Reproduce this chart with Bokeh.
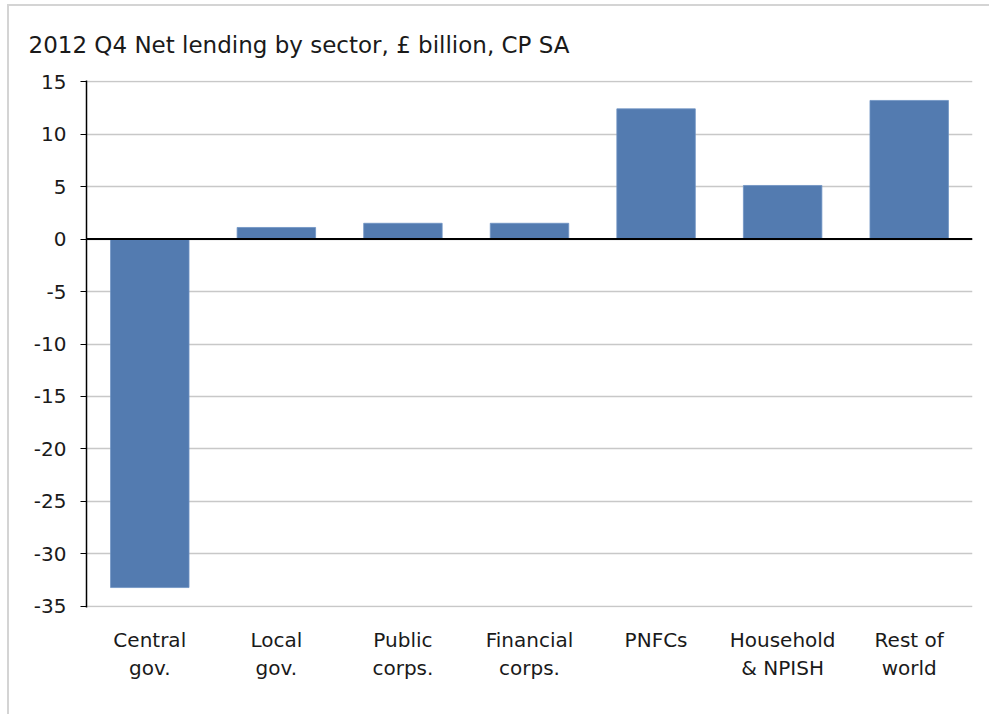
from bokeh.plotting import figure
from bokeh.models import Range1d, Span, FixedTicker, Title
from bokeh.embed import file_html
from bokeh.resources import INLINE

categories = ["Central\ngov.", "Local\ngov.", "Public\ncorps.", "Financial\ncorps.",
              "PNFCs", "Household\n& NPISH", "Rest of\nworld"]
values = [-33.2, 1.1, 1.5, 1.5, 12.4, 5.1, 13.2]
y_ticks = [-35, -30, -25, -20, -15, -10, -5, 0, 5, 10, 15]
title_text = "2012 Q4 Net lending by sector, \u00a3 billion, CP SA"

FONT = "DejaVu Sans"
TXT = "#1a1a1a"

p = figure(x_range=categories, y_range=Range1d(y_ticks[0] - 0.1, y_ticks[-1] + 0.1),
           frame_width=886, frame_height=527,
           min_border_left=77, min_border_right=17, min_border_top=74, min_border_bottom=107,
           output_backend="svg", toolbar_location=None, title=None)
p.styles = {"margin-left": "7px", "margin-top": "4px",
            "border-left": "2px solid #d4d4d4", "border-top": "2px solid #d4d4d4"}

p.vbar(x=categories, top=values, bottom=0, width=0.62,
       fill_color="#537bb0", line_color="#6f93c4", line_width=0.8)

p.add_layout(Title(text=title_text, text_font=FONT, text_font_size="23px",
                   text_font_style="normal", text_color=TXT, align="left",
                   offset=-58, standoff=46), "above")

zero = Span(location=0, dimension="width", line_color="#000000", line_width=2)
p.add_layout(zero)

p.yaxis.ticker = FixedTicker(ticks=y_ticks)
p.yaxis.major_label_overrides = {t: str(t) for t in y_ticks}
p.yaxis.axis_line_color = "#000000"
p.yaxis.axis_line_width = 1.5
p.yaxis.major_tick_line_color = "#000000"
p.yaxis.major_tick_out = 6
p.yaxis.major_tick_in = 0
p.yaxis.minor_tick_line_color = None
p.yaxis.major_label_text_font = FONT
p.yaxis.major_label_text_font_size = "20px"
p.yaxis.major_label_text_color = TXT
p.yaxis.major_label_standoff = 14

p.xaxis.axis_line_color = None
p.xaxis.major_tick_line_color = None
p.xaxis.minor_tick_line_color = None
p.xaxis.major_label_text_font = FONT
p.xaxis.major_label_text_font_size = "20px"
p.xaxis.major_label_text_color = TXT
p.xaxis.major_label_standoff = 14

p.xgrid.grid_line_color = None
p.ygrid.grid_line_color = "#c8c8c8"
p.ygrid.grid_line_width = 1.5
p.outline_line_color = None
p.background_fill_color = "white"
p.border_fill_color = "white"

open("out.html", "w").write(file_html(p, INLINE))
